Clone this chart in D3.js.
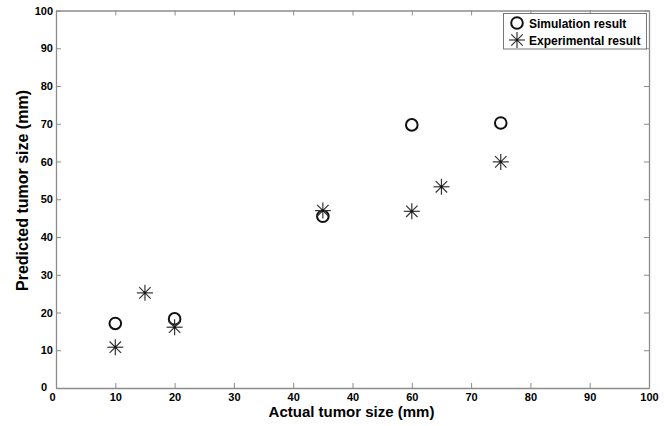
<!DOCTYPE html>
<html><head><meta charset="utf-8">
<script src="https://cdn.jsdelivr.net/npm/d3@7"></script>
<style>
html,body{margin:0;padding:0;background:#fff;}
svg{display:block;font-family:"Liberation Sans",Arial,sans-serif;}
</style></head>
<body><svg id="c" width="672" height="426"></svg>
<script>
// ---- data ----
const simX = [10, 20, 45, 60, 75];
const simY = [17.1, 18.3, 45.5, 69.7, 70.2];
const expX = [10, 15, 20, 45, 60, 65, 75];
const expY = [10.8, 25.2, 16.1, 47.0, 46.8, 53.3, 59.9];
const xTicks = [0, 10, 20, 30, 40, 50, 60, 70, 80, 90, 100];
const xTickLabels = ["0", "10", "20", "30", "40", "40", "60", "70", "80", "90", "100"];
const yTicks = [0, 10, 20, 30, 40, 50, 60, 70, 80, 90, 100];
const yTickLabels = ["0", "10", "20", "30", "40", "50", "60", "70", "80", "90", "100"];
const seriesNames = ["Simulation result", "Experimental result"];
const xTitle = "Actual tumor size (mm)";
const yTitle = "Predicted tumor size (mm)";

// ---- layout ----
const L = 56, R = 649, T = 10.5, B = 388;
const svg = d3.select("#c");
const x = d3.scaleLinear().domain([0, 100]).range([L, R]);
const y = d3.scaleLinear().domain([0, 100]).range([B, T]);
const axisColor = "#8c8c8c";

function styleAxis(g, hideText) {
  g.select(".domain").attr("stroke", axisColor).attr("stroke-width", 1.3);
  g.selectAll(".tick line").attr("stroke", axisColor).attr("stroke-width", 1);
  g.selectAll(".tick text").attr("fill", "#000").attr("font-weight", "bold")
    .attr("font-size", 11).attr("font-family", "Liberation Sans, Arial, sans-serif");
  if (hideText) g.selectAll(".tick text").remove();
}

// bottom
const gx = svg.append("g").attr("transform", `translate(0,${B})`)
  .call(d3.axisBottom(x).tickValues(xTicks).tickSizeInner(-5).tickSizeOuter(0).tickPadding(5)
    .tickFormat((d, i) => xTickLabels[i]));
styleAxis(gx, false);
gx.selectAll(".tick").filter(d => d === 0).select("text").attr("dx", -4);
// top
const gt = svg.append("g").attr("transform", `translate(0,${T})`)
  .call(d3.axisTop(x).tickValues(xTicks).tickSizeInner(-5).tickSizeOuter(0));
styleAxis(gt, true);
// left
const gy = svg.append("g").attr("transform", `translate(${L},0)`)
  .call(d3.axisLeft(y).tickValues(yTicks).tickSizeInner(-5).tickSizeOuter(0).tickPadding(3)
    .tickFormat((d, i) => yTickLabels[i]));
styleAxis(gy, false);
gy.selectAll(".tick").filter(d => d === 0).select("text").attr("dx", -6).attr("dy", "0.2em");
// right
const gr = svg.append("g").attr("transform", `translate(${R},0)`)
  .call(d3.axisRight(y).tickValues(yTicks).tickSizeInner(-5).tickSizeOuter(0));
styleAxis(gr, true);

// titles
svg.append("text").attr("x", 351.5).attr("y", 416.5).attr("text-anchor", "middle")
  .attr("font-size", 15).attr("font-weight", "bold").text(xTitle);
svg.append("text").attr("transform", `translate(28,190.5) rotate(-90)`)
  .attr("text-anchor", "middle").attr("font-size", 16).attr("font-weight", "bold").text(yTitle);

// markers
function circleMarker(g, cx, cy) {
  g.append("circle").attr("cx", cx).attr("cy", cy).attr("r", 5.8)
    .attr("fill", "none").attr("stroke", "#111").attr("stroke-width", 2);
}
function starMarker(g, cx, cy) {
  const a = 8, b = 5.7;
  const segs = [[0, -a, 0, a], [-a, 0, a, 0], [-b, -b, b, b], [-b, b, b, -b]];
  segs.forEach(s => g.append("line").attr("x1", cx + s[0]).attr("y1", cy + s[1])
    .attr("x2", cx + s[2]).attr("y2", cy + s[3]).attr("stroke", "#333").attr("stroke-width", 1.2));
  g.append("circle").attr("cx", cx).attr("cy", cy).attr("r", 1.3).attr("fill", "#111");
}
const gm = svg.append("g");
simX.forEach((d, i) => circleMarker(gm, x(d), y(simY[i])));
expX.forEach((d, i) => starMarker(gm, x(d), y(expY[i])));

// legend
const lg = svg.append("g");
lg.append("rect").attr("x", 503.5).attr("y", 13.5).attr("width", 143).attr("height", 35.5)
  .attr("fill", "#fff").attr("stroke", "#777").attr("stroke-width", 1);
circleMarker(lg, 517, 23);
starMarker(lg, 517, 40);
lg.append("text").attr("x", 529).attr("y", 27.5).attr("font-size", 12).attr("font-weight", "bold").text(seriesNames[0]);
lg.append("text").attr("x", 529).attr("y", 44.5).attr("font-size", 12).attr("font-weight", "bold").text(seriesNames[1]);
</script></body></html>
